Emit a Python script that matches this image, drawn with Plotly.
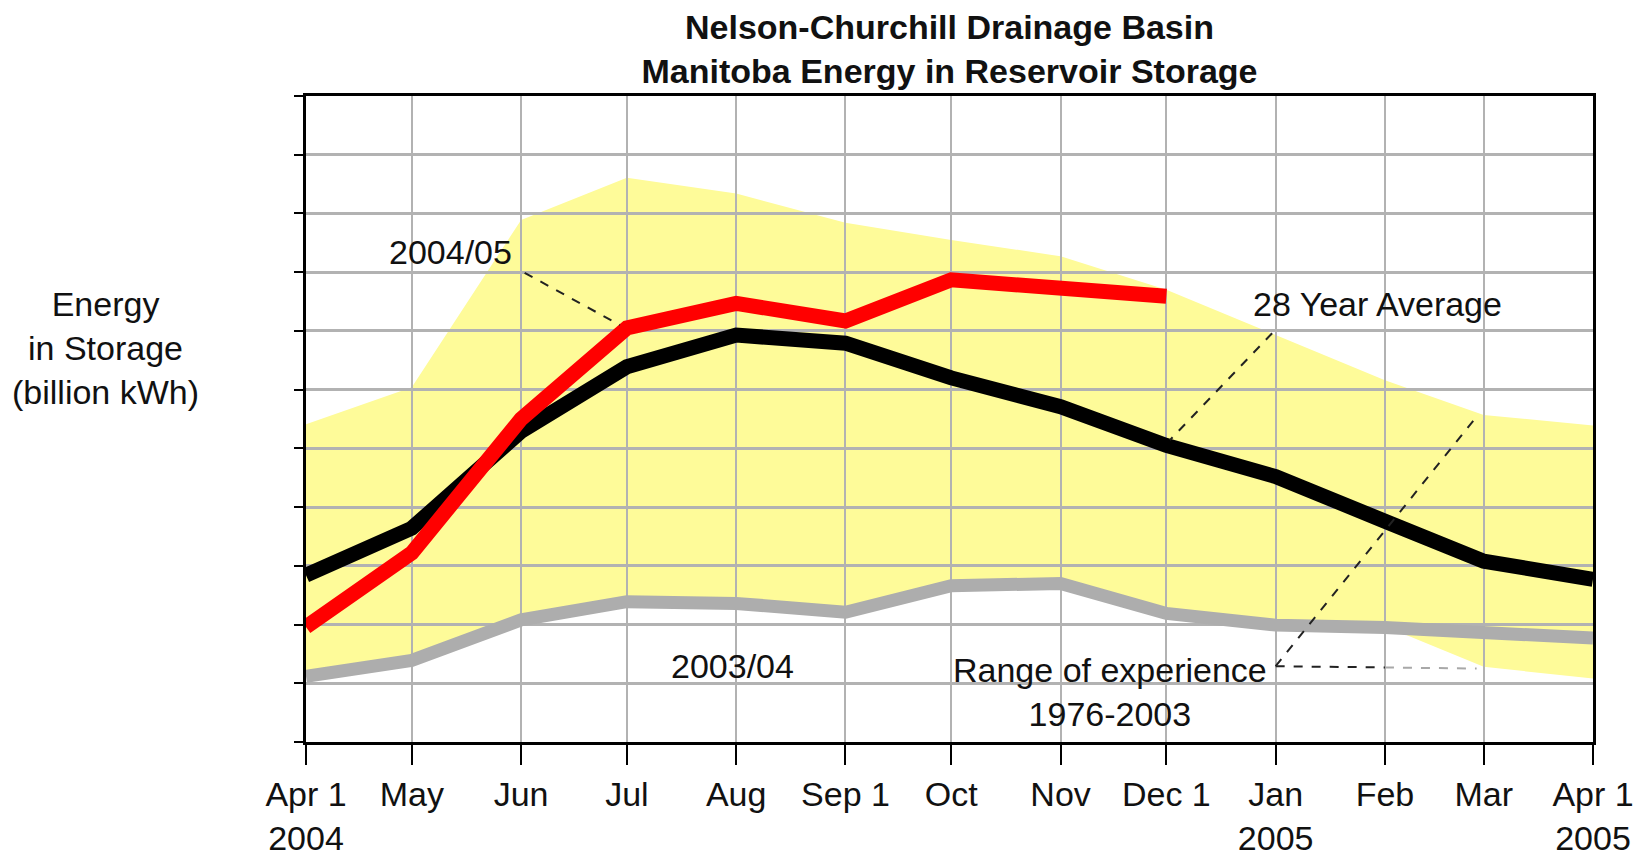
import plotly.graph_objects as go

# ---------------- data (y in grid units) ----------------
dates = ["2004-04-01", "2004-05-01", "2004-06-01", "2004-07-01", "2004-08-01",
         "2004-09-01", "2004-10-01", "2004-11-01", "2004-12-01", "2005-01-01",
         "2005-02-01", "2005-03-01", "2005-04-01"]
tick_text = ["Apr 1<br>2004", "May", "Jun", "Jul", "Aug", "Sep 1", "Oct", "Nov",
             "Dec 1", "Jan<br>2005", "Feb", "Mar", "Apr 1<br>2005"]

avg_28yr = [2.84, 3.64, 5.29, 6.39, 6.93, 6.79, 6.20, 5.71, 5.05, 4.52, 3.76, 3.08, 2.77]
y2004_05 = [1.96, 3.22, 5.50, 7.05, 7.47, 7.17, 7.87, 7.75, 7.59]
y2003_04 = [1.12, 1.39, 2.08, 2.39, 2.36, 2.21, 2.66, 2.70, 2.19, 1.99, 1.95, 1.84, 1.77]
range_max = [5.41, 6.04, 8.89, 9.61, 9.34, 8.84, 8.55, 8.27, 7.70, 6.93, 6.16, 5.57, 5.39]
range_min = [1.16, 1.43, 2.12, 2.43, 2.40, 2.25, 2.70, 2.74, 2.23, 2.03, 1.97, 1.28, 1.08]

y_ticks = list(range(0, 12))

FONT = "Liberation Sans, Arial, Helvetica, sans-serif"
FS = 34

fig = go.Figure()

# range of experience band (drawn as a below-grid shape so gridlines show on top)
band_pts = list(zip(dates, range_max)) + list(zip(dates[::-1], range_min[::-1]))
band_path = "M " + " L ".join(f"{d},{v}" for d, v in band_pts) + " Z"
fig.add_shape(type="path", path=band_path, xref="x", yref="y",
              fillcolor="#FEFB99", line=dict(width=0), layer="below")

fig.add_trace(go.Scatter(x=dates, y=y2003_04, mode="lines", name="2003/04",
                         line=dict(color="#ADADAD", width=13), showlegend=False))
fig.add_trace(go.Scatter(x=dates, y=avg_28yr, mode="lines", name="28 Year Average",
                         line=dict(color="black", width=15), showlegend=False))
fig.add_trace(go.Scatter(x=dates[:len(y2004_05)], y=y2004_05, mode="lines", name="2004/05",
                         line=dict(color="#FF0000", width=15), showlegend=False))

# dashed leader lines
leaders = [
    ("2004-06-02", 7.99, "2004-06-29", 7.10, "#222222"),
    ("2004-12-31", 6.96, "2004-12-02", 5.14, "#222222"),
    ("2005-01-01", 1.29, "2005-02-27", 5.54, "#222222"),
    ("2005-01-01", 1.29, "2005-02-01", 1.27, "#222222"),
    ("2005-02-01", 1.27, "2005-02-27", 1.25, "#A8A8A8"),
]
for x0, y0, x1, y1, c in leaders:
    fig.add_shape(type="line", xref="x", yref="y", x0=x0, y0=y0, x1=x1, y1=y1,
                  line=dict(color=c, width=2, dash="dash"), layer="above")

labels = [
    ("2004-05-12", 8.34, "2004/05"),
    ("2005-01-30", 7.45, "28 Year Average"),
    ("2004-07-31", 1.29, "2003/04"),
    ("2004-11-15", 0.85, "Range of experience<br>1976-2003"),
]
for x, y, t in labels:
    fig.add_annotation(x=x, y=y, xref="x", yref="y", text=t, showarrow=False,
                       font=dict(family=FONT, size=FS, color="#111111"),
                       xanchor="center", yanchor="middle", align="center")

# y-axis title
fig.add_annotation(x=-0.156, y=0.61, xref="paper", yref="paper",
                   text="Energy<br>in Storage<br>(billion kWh)", showarrow=False,
                   font=dict(family=FONT, size=FS, color="#111111"),
                   xanchor="center", yanchor="middle", align="center")

fig.update_layout(
    width=1643, height=859,
    margin=dict(l=306, r=50, t=96, b=117, autoexpand=False),
    paper_bgcolor="white", plot_bgcolor="white",
    title=dict(text="<b>Nelson-Churchill Drainage Basin<br>Manitoba Energy in Reservoir Storage</b>",
               x=0.5, xref="paper", xanchor="center",
               y=1 - 39 / 859, yref="container", yanchor="middle",
               font=dict(family=FONT, size=FS, color="#111111")),
    xaxis=dict(type="date", range=[dates[0], dates[-1]],
               tickvals=dates, ticktext=tick_text, tickmode="array",
               ticks="outside", ticklen=20, tickwidth=2, tickcolor="black",
               showgrid=True, gridcolor="#B2B2B2", gridwidth=2,
               showline=True, linecolor="black", linewidth=3, mirror=True,
               tickfont=dict(family=FONT, size=FS, color="#111111"),
               zeroline=False, automargin=False),
    yaxis=dict(range=[0, 11], tickvals=y_ticks, tickmode="array",
               showticklabels=False,
               ticks="outside", ticklen=9, tickwidth=2, tickcolor="black",
               showgrid=True, gridcolor="#B2B2B2", gridwidth=2.5,
               showline=True, linecolor="black", linewidth=2.5, mirror=True,
               zeroline=False, automargin=False),
)

fig.write_html("out.html", config={"displayModeBar": False},
               post_script="document.body.style.margin='0';")
